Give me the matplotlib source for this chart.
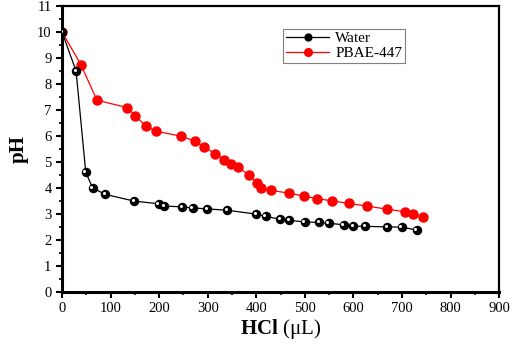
import numpy as np
import matplotlib
matplotlib.use("Agg")
import matplotlib.pyplot as plt
import matplotlib.transforms as mtransforms
from matplotlib.ticker import MultipleLocator

plt.rcParams['font.family'] = ['Liberation Serif', 'DejaVu Serif']
plt.rcParams['mathtext.fontset'] = 'custom'
plt.rcParams['mathtext.rm'] = 'Liberation Serif'
plt.rcParams['mathtext.bf'] = 'Liberation Serif:bold'

# Water titration
water_x = [0, 29, 49, 63, 89, 149, 199, 210, 248, 269, 299, 340, 400, 419, 449,
           468, 500, 529, 549, 580, 600, 624, 669, 699, 730]
water_ph = [10.0, 8.5, 4.6, 4.0, 3.75, 3.49, 3.39, 3.3, 3.27, 3.23, 3.19, 3.14, 2.99,
            2.9, 2.8, 2.75, 2.69, 2.67, 2.64, 2.58, 2.53, 2.52, 2.5, 2.49, 2.38]

# PBAE-447 titration
pbae_x = [0, 39, 72, 134, 151, 172, 193, 245, 273, 292, 316, 334, 348, 363, 384,
          402, 410, 430, 467, 498, 524, 556, 591, 628, 669, 707, 722, 743]
pbae_ph = [10.0, 8.74, 7.37, 7.09, 6.78, 6.38, 6.18, 5.99, 5.8, 5.59, 5.3, 5.09, 4.9,
           4.8, 4.5, 4.2, 3.99, 3.9, 3.8, 3.68, 3.59, 3.5, 3.4, 3.3, 3.18, 3.08, 2.99, 2.88]

fig = plt.figure(figsize=(5.12, 3.45), dpi=100)
ax = fig.add_axes([0.121, 0.154, 0.854, 0.829])

ax.plot(water_x, water_ph, color='black', lw=0.9, marker='o', ms=5.8,
        mfc='black', mec='black', label='Water', zorder=3)
# little white highlight on the black balls
shift = mtransforms.ScaledTranslation(-1.0 / 72, 0.8 / 72, fig.dpi_scale_trans)
ax.plot(water_x, water_ph, ls='none', marker='o', ms=2.2, mfc='white', mec='none',
        transform=ax.transData + shift, zorder=4)
ax.plot(pbae_x, pbae_ph, color='red', lw=0.9, marker='o', ms=6.5,
        mfc='red', mec='red', label='PBAE-447', zorder=2)

ax.set_xlim(0, 900)
ax.set_ylim(0, 11)
ax.xaxis.set_major_locator(MultipleLocator(100))
ax.xaxis.set_minor_locator(MultipleLocator(50))
ax.yaxis.set_major_locator(MultipleLocator(1))
ax.yaxis.set_minor_locator(MultipleLocator(0.5))
ax.tick_params(which='major', direction='out', length=4, width=1.5, labelsize=10.5)
ax.tick_params(which='minor', direction='out', length=2.5, width=1.2)
ax.tick_params(top=False, right=False)
for side in ['left', 'bottom']:
    ax.spines[side].set_linewidth(2.2)
for side in ['top', 'right']:
    ax.spines[side].set_linewidth(1.6)

ax.set_xlabel(r'$\mathbf{HCl}$ (μL)', fontsize=15, labelpad=1)
ax.set_ylabel('pH', fontsize=15, fontweight='bold', labelpad=6)

leg = ax.legend(loc='upper left', bbox_to_anchor=(0.506, 0.92), fontsize=11,
                fancybox=False, framealpha=1, edgecolor='gray', borderpad=0.2,
                handlelength=2.8, labelspacing=0.05, handletextpad=0.4,
                borderaxespad=0, markerscale=0.85)
leg.get_frame().set_linewidth(0.8)

fig.savefig('out.png', dpi=100)
